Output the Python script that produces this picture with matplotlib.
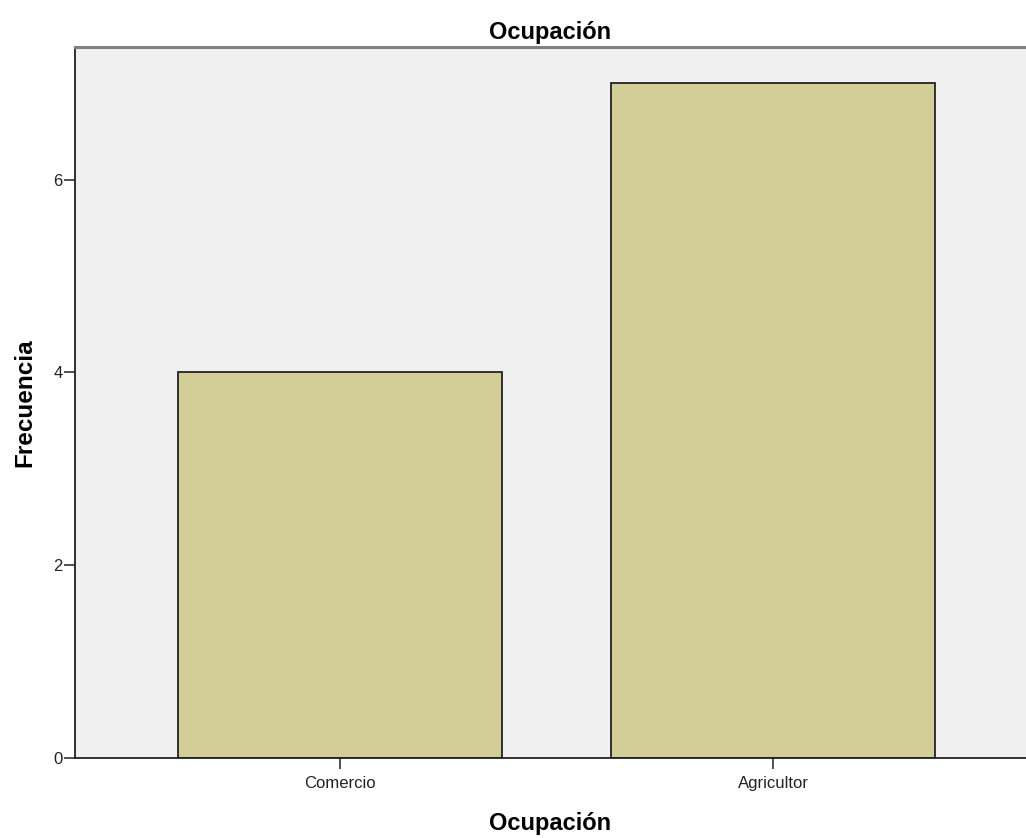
import matplotlib.pyplot as plt
import numpy as np

plt.rcParams["font.family"] = "Liberation Sans"

categorias = ['Comercio', 'Agricultor']
frecuencia = [4, 7]
yticks = [0, 2, 4, 6]

fig = plt.figure(figsize=(10.26, 8.38), dpi=100)
ax = fig.add_axes([75/1026, 80/838, 1 - 75/1026, (758 - 47)/838])

x = np.arange(len(categorias))
ax.bar(x, frecuencia, width=0.75, color='#D3CE98', edgecolor='#222222', linewidth=1.3, zorder=2)

ax.set_facecolor('#F0F0F0')
ax.set_xlim(-0.612, 1.584)
ax.set_ylim(0, 7.375)

ax.set_xticks(x)
ax.set_xticklabels(categorias)
ax.set_yticks(yticks)
ax.tick_params(axis='both', direction='out', length=8, width=1.1, color='#222222',
               labelsize=12, labelcolor='#222222')
ax.tick_params(axis='y', pad=1)
ax.tick_params(axis='x', pad=5)

for s in ['left', 'bottom']:
    ax.spines[s].set_color('#222222')
    ax.spines[s].set_linewidth(1.3)
ax.spines['top'].set_color('#808080')
ax.spines['top'].set_linewidth(2.2)
ax.spines['right'].set_visible(False)

ax.set_title('Ocupación', fontsize=17, fontweight='bold', pad=6)
ax.set_xlabel('Ocupación', fontsize=17, fontweight='bold', labelpad=15)
ax.set_ylabel('Frecuencia', fontsize=17.5, fontweight='bold', labelpad=12)

fig.savefig('out.png', dpi=100)
